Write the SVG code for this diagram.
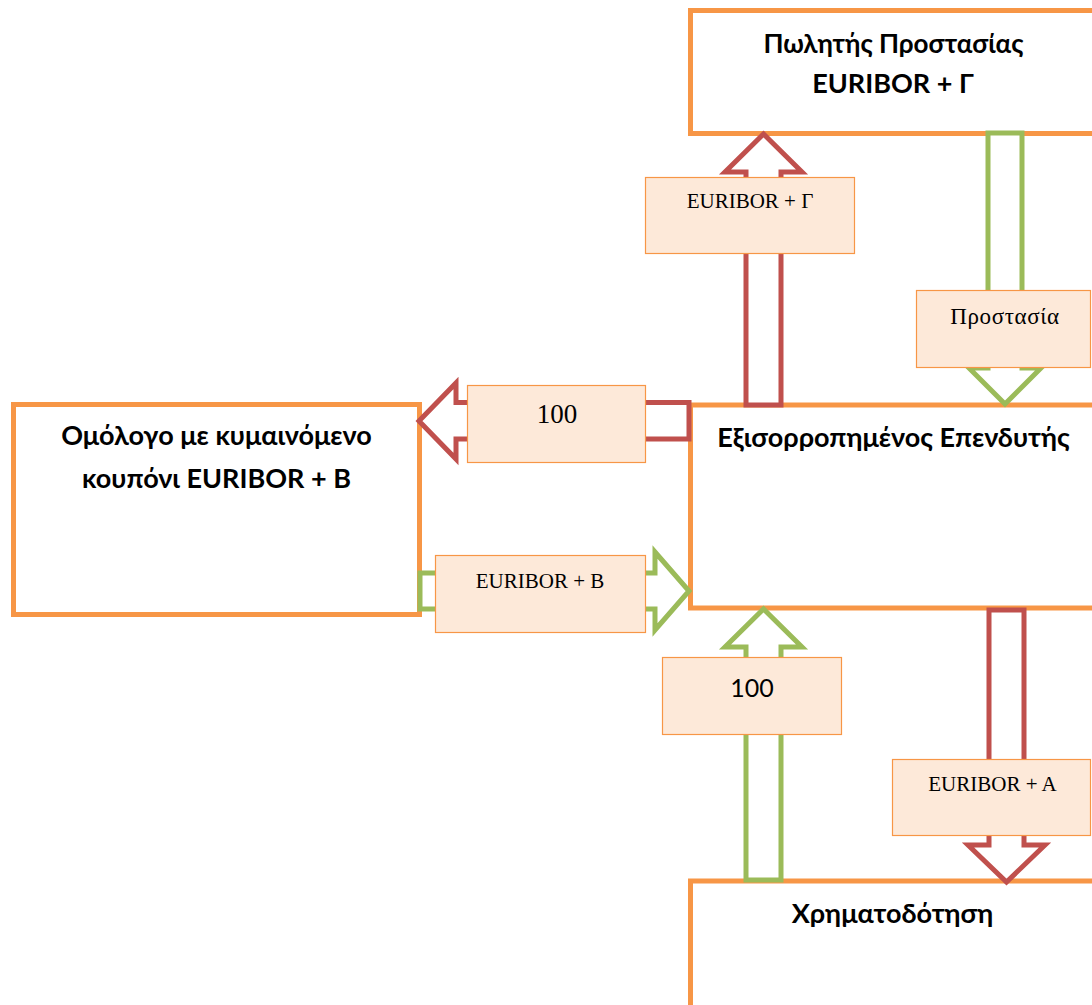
<svg xmlns="http://www.w3.org/2000/svg" width="1092" height="1005" viewBox="0 0 1092 1005">
<style>
.box{fill:#ffffff;stroke:#F79646;stroke-width:5}
.lbl{fill:#FDE9D9;stroke:#F79646;stroke-width:1.2}
.red{fill:#ffffff;stroke:#C0504D;stroke-width:5;stroke-linejoin:miter}
.grn{fill:#ffffff;stroke:#9BBB59;stroke-width:5;stroke-linejoin:miter}
.title{font-family:Lato,"Noto Sans",sans-serif;font-weight:bold;font-size:27px;fill:#000;text-anchor:middle}
.serif{font-family:"Liberation Serif","Times New Roman",serif;font-size:21px;fill:#000;text-anchor:middle}
.sans{font-family:Lato,"Noto Sans",sans-serif;font-size:25px;fill:#000;text-anchor:middle}
</style>
<rect width="1092" height="1005" fill="#ffffff"/>
<g id="seller">
<rect class="box" x="690.5" y="10.5" width="420" height="123"/>
<text class="title" x="893.5" y="53" style="font-size:26px">Πωλητής Προστασίας</text>
<text class="title" x="893" y="93">EURIBOR + Γ</text>
</g>
<g id="bond">
<rect class="box" x="13.5" y="404.5" width="406" height="210"/>
<text class="title" x="216.5" y="445">Ομόλογο με κυμαινόμενο</text>
<text class="title" x="216.5" y="488">κουπόνι EURIBOR + B</text>
</g>
<g id="investor">
<rect class="box" x="690.5" y="405" width="420" height="203"/>
<text class="title" x="893.5" y="447">Εξισορροπημένος Επενδυτής</text>
</g>
<g id="financing">
<rect class="box" x="690.5" y="881" width="420" height="140"/>
<text class="title" x="892.5" y="923">Χρηματοδότηση</text>
</g>
<g id="connectors">
<polygon class="red" points="746,405 746,172 725,172 763.5,134 802,172 781,172 781,405"/>
<polygon class="grn" points="988,133 1022,133 1022,368 1041,368 1005,404 969,368 988,368"/>
<polygon class="red" points="419,421 456,383 456,402.5 689,402.5 689,439 456,439 456,459"/>
<polygon class="grn" points="420,573 655,573 655,552 689,591 655,630 655,609 420,609"/>
<polygon class="grn" points="746,880 746,647 725,647 763.5,609 802,647 781,647 781,880"/>
<polygon class="red" points="989,610 1024,610 1024,845 1045,845 1006.5,882 968,845 989,845"/>
</g>
<g id="label-euribor-g">
<rect class="lbl" x="645.5" y="177.5" width="209" height="76"/>
<text class="serif" x="750" y="208">EURIBOR + Γ</text>
</g>
<g id="label-protection">
<rect class="lbl" x="916.5" y="290.5" width="174" height="77"/>
<text class="serif" x="1005" y="324" style="font-size:23px;letter-spacing:0.6px">Προστασία</text>
</g>
<g id="label-100-top">
<rect class="lbl" x="467.5" y="385.5" width="178" height="77"/>
<text class="serif" x="557" y="423" style="font-size:27px">100</text>
</g>
<g id="label-euribor-b">
<rect class="lbl" x="435.5" y="555.5" width="210" height="77"/>
<text class="serif" x="540" y="588">EURIBOR + B</text>
</g>
<g id="label-100-bottom">
<rect class="lbl" x="662.5" y="657.5" width="179" height="77"/>
<text class="sans" x="752" y="697">100</text>
</g>
<g id="label-euribor-a">
<rect class="lbl" x="892.5" y="759.5" width="198" height="76"/>
<text class="serif" x="992.5" y="791">EURIBOR + A</text>
</g>
</svg>
